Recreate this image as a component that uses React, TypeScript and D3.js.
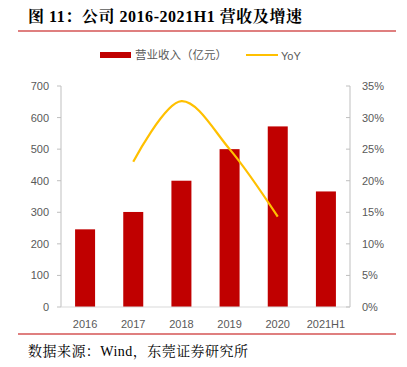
import React from "react";
import * as d3 from "d3";

const categories = ["2016", "2017", "2018", "2019", "2020", "2021H1"];
const revenue = [246, 301, 400, 500, 572, 366];
const yoyYears = ["2017", "2018", "2019", "2020"];
const yoy = [0.23, 0.326, 0.25, 0.143];
const leftTicks = [0, 100, 200, 300, 400, 500, 600, 700];
const rightTicks = [0, 0.05, 0.1, 0.15, 0.2, 0.25, 0.3, 0.35];

const W = 407;
const H = 367;
const plot = { left: 61, right: 350, top: 86, bottom: 307 };
const gray = "#595959";
const axisColor = "#bfbfbf";
const red = "#c00000";
const yellow = "#ffc000";
const sans = "'Liberation Sans', 'DejaVu Sans', sans-serif";
const cjk = "'Noto Sans CJK SC', sans-serif";
const serif = "'Liberation Serif', 'Noto Serif CJK SC', 'Noto Sans CJK SC', serif";

export default function App() {
  const x = d3.scaleBand<string>().domain(categories).range([plot.left, plot.right]).paddingInner(0).paddingOuter(0);
  const yL = d3.scaleLinear().domain([0, 700]).range([plot.bottom, plot.top]);
  const yR = d3.scaleLinear().domain([0, 0.35]).range([plot.bottom, plot.top]);
  const barW = 20;
  const cx = (c: string) => (x(c) as number) + x.bandwidth() / 2;
  const line = d3
    .line<number>()
    .x((_, i) => cx(yoyYears[i]))
    .y((d) => yR(d))
    .curve(d3.curveCatmullRom.alpha(0.5));

  return (
    <svg width={W} height={H} style={{ position: "absolute", left: 0, top: 0, background: "#fff" }}>
      <text x={28} y={22} fontFamily={serif} fontSize={16} fontWeight="bold" fill="#000" textLength={274} lengthAdjust="spacing">
        图 11：公司 2016-2021H1 营收及增速
      </text>
      <line x1={18} x2={396} y1={31} y2={31} stroke={red} strokeWidth={1.2} />

      {/* legend */}
      <rect x={100} y={52} width={31} height={6} fill={red} />
      <text x={135} y={59} fontFamily={cjk} fontSize={11.5} fill={gray}>
        营业收入（亿元）
      </text>
      <line x1={246} x2={278} y1={55} y2={55} stroke={yellow} strokeWidth={2} />
      <text x={281} y={59.5} fontFamily={sans} fontSize={11} fill={gray}>
        YoY
      </text>

      {/* bars */}
      {categories.map((c, i) => (
        <rect key={c} x={cx(c) - barW / 2} y={yL(revenue[i])} width={barW} height={plot.bottom - yL(revenue[i])} fill={red} />
      ))}

      {/* axes */}
      <line x1={plot.left} x2={plot.left} y1={plot.top} y2={plot.bottom} stroke={axisColor} />
      <line x1={plot.right} x2={plot.right} y1={plot.top} y2={plot.bottom} stroke={axisColor} />
      <line x1={plot.left} x2={plot.right} y1={plot.bottom} y2={plot.bottom} stroke="#d9d9d9" />
      {leftTicks.map((t) => (
        <g key={"l" + t}>
          <line x1={plot.left - 4} x2={plot.left} y1={yL(t)} y2={yL(t)} stroke={axisColor} />
          <text x={49} y={yL(t) + 4} textAnchor="end" fontFamily={sans} fontSize={11} fill={gray}>
            {t}
          </text>
        </g>
      ))}
      {rightTicks.map((t) => (
        <g key={"r" + t}>
          <line x1={plot.right - 4} x2={plot.right} y1={yR(t)} y2={yR(t)} stroke={axisColor} />
          <text x={362} y={yR(t) + 4} fontFamily={sans} fontSize={11} fill={gray}>
            {d3.format(".0%")(t)}
          </text>
        </g>
      ))}
      {categories.map((c) => (
        <text key={"x" + c} x={cx(c)} y={328} textAnchor="middle" fontFamily={sans} fontSize={11} fill={gray}>
          {c}
        </text>
      ))}

      <path d={line(yoy) || ""} fill="none" stroke={yellow} strokeWidth={2.2} />

      <line x1={18} x2={396} y1={334} y2={334} stroke={red} strokeWidth={1.2} />
      <text x={28} y={356} fontFamily={serif} fontSize={14} fill="#000" textLength={220} lengthAdjust="spacing">
        数据来源：Wind，东莞证券研究所
      </text>
    </svg>
  );
}
